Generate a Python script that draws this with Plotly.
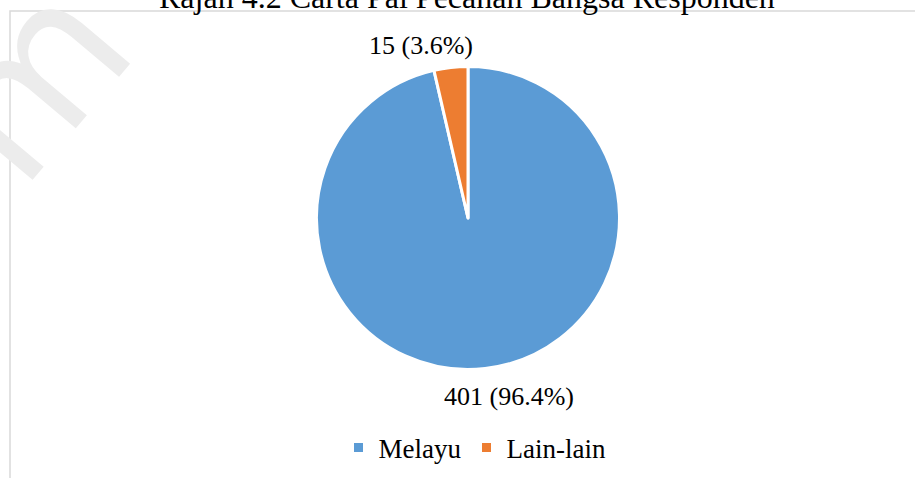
import plotly.graph_objects as go

W, H = 915, 478

title_text = "Rajah 4.2 Carta Pai Pecahan Bangsa Responden"
labels = ["Melayu", "Lain-lain"]
values = [401, 15]
colors = ["#5B9BD5", "#ED7D31"]

# where the outside labels sit (pixels, from top-left)
label_pos = [(509, 396), (421, 45)]

FONT = "Liberation Serif, Times New Roman, serif"


def px(x, y):
    return x / W, 1 - y / H


total = sum(values)
R = 151.5

fig = go.Figure(
    go.Pie(
        labels=labels,
        values=values,
        sort=False,
        direction="clockwise",
        rotation=0,
        textinfo="none",
        hoverinfo="label+value+percent",
        marker=dict(colors=colors, line=dict(color="white", width=3)),
        domain=dict(
            x=[(468 - R) / W, (468 + R) / W],
            y=[1 - (218 + R) / H, 1 - (218 - R) / H],
        ),
    )
)

annotations = []

# faint watermark in the corner
wx, wy = px(30, 80)
annotations.append(
    dict(
        text="m",
        x=wx,
        y=wy,
        xref="paper",
        yref="paper",
        xanchor="center",
        yanchor="middle",
        showarrow=False,
        textangle=-50,
        font=dict(family="DejaVu Sans", size=190, color="#ECECEC"),
    )
)

for v, (x, y) in zip(values, label_pos):
    ax, ay = px(x, y)
    annotations.append(
        dict(
            text=f"{v} ({v / total * 100:.1f}%)",
            x=ax,
            y=ay,
            xref="paper",
            yref="paper",
            xanchor="center",
            yanchor="middle",
            showarrow=False,
            font=dict(family=FONT, size=26, color="#000000"),
        )
    )

# title, partly cut off by the top edge
tx, ty = px(467, -3)
annotations.append(
    dict(
        text=title_text,
        x=tx,
        y=ty,
        xref="paper",
        yref="paper",
        xanchor="center",
        yanchor="middle",
        showarrow=False,
        font=dict(family=FONT, size=32, color="#000000"),
    )
)

fig.update_layout(
    width=W,
    height=H,
    margin=dict(l=0, r=0, t=0, b=0),
    paper_bgcolor="white",
    plot_bgcolor="white",
    showlegend=True,
    legend=dict(
        orientation="h",
        x=px(475, 0)[0],
        xanchor="center",
        y=px(0, 448)[1],
        yanchor="middle",
        font=dict(family=FONT, size=27, color="#000000"),
        itemwidth=30,
        traceorder="normal",
    ),
    annotations=annotations,
    shapes=[
        dict(
            type="rect",
            xref="paper",
            yref="paper",
            x0=10 / W,
            x1=1.05,
            y0=-0.05,
            y1=1 - 11 / H,
            line=dict(color="#D9D9D9", width=1.5),
            fillcolor="rgba(0,0,0,0)",
            layer="below",
        )
    ],
)

# drop the default page margin so the figure sits at the window's corner
fig.write_html(
    "out.html",
    config={"displayModeBar": False},
    post_script="document.body.style.margin='0';",
)
